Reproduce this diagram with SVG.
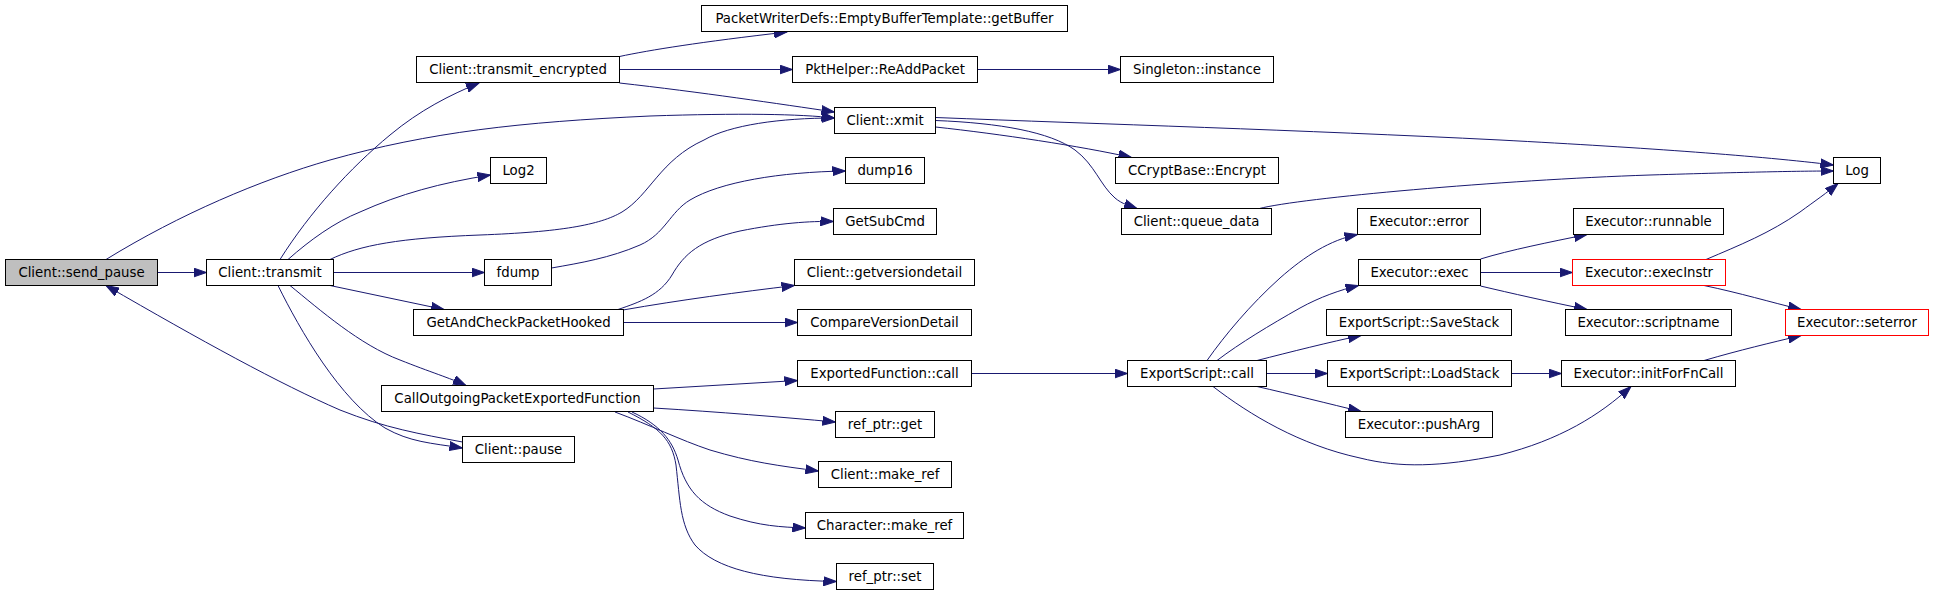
<svg xmlns="http://www.w3.org/2000/svg" width="1933" height="595" viewBox="0 0 1933 595">
<defs>
<style>
.n rect{fill:#ffffff;stroke:#000000;stroke-width:1}
.n text{font-family:"DejaVu Sans","Bitstream Vera Sans",sans-serif;font-size:13.3px;fill:#000000;text-anchor:middle}
.g rect{fill:#bfbfbf}
.r rect{stroke:#ff0000}
#edges path{fill:none;stroke:#191970;stroke-width:1;marker-end:url(#ah)}
</style>
<marker id="ah" markerWidth="14" markerHeight="10" refX="13" refY="5" orient="auto" markerUnits="userSpaceOnUse">
<path d="M0,0.5 L13,5 L0,9.5 z" fill="#191970" stroke="#191970" stroke-width="1"/>
</marker>
</defs>
<rect width="1933" height="595" fill="#ffffff"/>
<g id="edges">
<path d="M157.5,272.5 L206.5,272.5"/>
<path d="M106,259.5 C180,214 260,180 330,160 C430,132 520,122 650,116 C740,113 800,114 834.5,118"/>
<path d="M280,259.5 C310,212 350,168 390,135 C420,110 450,95 479,83"/>
<path d="M288,259.5 C310,240 335,222 360,212 C400,194 440,183 490.5,175"/>
<path d="M330,259.5 C360,245 400,238 480,235 C560,232 600,225 622,212 C650,195 660,160 704,140 C730,125 780,118 834.5,118"/>
<path d="M333.5,272.5 L484.5,272.5"/>
<path d="M330,285.5 L444,309.5"/>
<path d="M290,285.5 C320,310 360,345 400,360 C430,372 450,378 466,385.5"/>
<path d="M278,285.5 C300,330 340,400 385,428 C410,442 430,443 462.5,448"/>
<path d="M462.5,442 C420,434 385,428 340,410 C280,384 200,340 106,285.5"/>
<path d="M619.5,56.5 C650,50 700,42 787,32"/>
<path d="M619.5,69.5 L792.5,69.5"/>
<path d="M619.5,83 C700,92 780,104 834.5,112"/>
<path d="M977.5,69.5 L1120.5,69.5"/>
<path d="M935.5,117.5 C1100,124 1300,130 1500,140 C1650,148 1760,156 1833.5,165"/>
<path d="M935.5,127 C1000,134 1080,146 1131.5,157.5"/>
<path d="M935.5,120.5 C1000,123 1050,132 1075,150 C1095,165 1100,185 1115,198 C1122,204 1130,206 1137,208.5"/>
<path d="M1259.5,208.5 C1300,198 1500,180 1650,175 C1750,172 1800,171 1833.5,171"/>
<path d="M551.5,268 C580,263 610,258 640,245 C665,234 670,212 690,200 C720,182 780,172 845.5,171"/>
<path d="M618,309.5 C640,302 660,295 672,275 C684,254 700,240 740,231 C780,223 810,221 833.5,221.5"/>
<path d="M623,310 C680,300 740,292 794.5,285.5"/>
<path d="M623.5,322.5 L797.5,322.5"/>
<path d="M653.5,389 L797.5,380.5"/>
<path d="M653.5,408 C720,412 780,417 835.5,422"/>
<path d="M615,412 C650,425 680,440 710,450 C750,462 780,466 818.5,471"/>
<path d="M632,412 C660,425 672,440 678,460 C686,490 700,505 730,516 C760,526 780,527 805.5,528"/>
<path d="M628,412 C660,428 672,440 676,465 C680,500 680,525 695,545 C715,568 760,580 836.5,581.5"/>
<path d="M971.5,373.5 L1127.5,373.5"/>
<path d="M1207,360.5 C1225,335 1250,305 1280,278 C1305,256 1330,240 1357.5,234.5"/>
<path d="M1217,360.5 C1240,343 1270,325 1300,308 C1320,297 1340,290 1358.5,285.5"/>
<path d="M1257,360.5 C1290,352 1330,342 1361,335.5"/>
<path d="M1266.5,373.5 L1327.5,373.5"/>
<path d="M1257,386.5 C1290,394 1330,404 1361,411.5"/>
<path d="M1213,386.5 C1250,415 1300,445 1360,458 C1400,468 1440,467 1500,455 C1560,440 1600,415 1631,386.5"/>
<path d="M1511.5,373.5 L1561.5,373.5"/>
<path d="M1704,360.5 C1740,350 1770,343 1801,335.5"/>
<path d="M1480.5,259 C1510,250 1550,242 1587,234.5"/>
<path d="M1480.5,272.5 L1572.5,272.5"/>
<path d="M1480.5,286 C1510,293 1550,302 1587,309.5"/>
<path d="M1706,259.5 C1740,245 1770,233 1800,212 C1815,201 1828,192 1838,183.5"/>
<path d="M1704,285.5 C1740,293 1770,302 1801,309.5"/>
</g>
<g id="n_send_pause" class="n g"><rect x="5.5" y="259.5" width="152" height="26"/><text x="81.5" y="277.2">Client::send_pause</text></g>
<g id="n_transmit" class="n"><rect x="206.5" y="259.5" width="127" height="26"/><text x="270" y="277.2">Client::transmit</text></g>
<g id="n_transmit_encrypted" class="n"><rect x="416.5" y="56.5" width="203" height="26"/><text x="518" y="74.2">Client::transmit_encrypted</text></g>
<g id="n_log2" class="n"><rect x="490.5" y="157.5" width="56" height="26"/><text x="518.5" y="175.2">Log2</text></g>
<g id="n_fdump" class="n"><rect x="484.5" y="259.5" width="67" height="26"/><text x="518" y="277.2">fdump</text></g>
<g id="n_gacph" class="n"><rect x="413.5" y="309.5" width="210" height="26"/><text x="518.5" y="327.2">GetAndCheckPacketHooked</text></g>
<g id="n_copef" class="n"><rect x="381.5" y="385.5" width="272" height="26"/><text x="517.5" y="403.2">CallOutgoingPacketExportedFunction</text></g>
<g id="n_pause" class="n"><rect x="462.5" y="436.5" width="112" height="26"/><text x="518.5" y="454.2">Client::pause</text></g>
<g id="n_getbuffer" class="n"><rect x="701.5" y="5.5" width="366" height="26"/><text x="884.5" y="23.2">PacketWriterDefs::EmptyBufferTemplate::getBuffer</text></g>
<g id="n_readdpacket" class="n"><rect x="792.5" y="56.5" width="185" height="26"/><text x="885" y="74.2">PktHelper::ReAddPacket</text></g>
<g id="n_xmit" class="n"><rect x="834.5" y="107.5" width="101" height="26"/><text x="885" y="125.2">Client::xmit</text></g>
<g id="n_dump16" class="n"><rect x="845.5" y="157.5" width="79" height="26"/><text x="885" y="175.2">dump16</text></g>
<g id="n_getsubcmd" class="n"><rect x="833.5" y="208.5" width="103" height="26"/><text x="885" y="226.2">GetSubCmd</text></g>
<g id="n_getversiondetail" class="n"><rect x="794.5" y="259.5" width="180" height="26"/><text x="884.5" y="277.2">Client::getversiondetail</text></g>
<g id="n_compareversiondetail" class="n"><rect x="797.5" y="309.5" width="174" height="26"/><text x="884.5" y="327.2">CompareVersionDetail</text></g>
<g id="n_exportedfunction_call" class="n"><rect x="797.5" y="360.5" width="174" height="26"/><text x="884.5" y="378.2">ExportedFunction::call</text></g>
<g id="n_refptr_get" class="n"><rect x="835.5" y="411.5" width="99" height="26"/><text x="885" y="429.2">ref_ptr::get</text></g>
<g id="n_client_make_ref" class="n"><rect x="818.5" y="461.5" width="133" height="26"/><text x="885" y="479.2">Client::make_ref</text></g>
<g id="n_character_make_ref" class="n"><rect x="805.5" y="512.5" width="158" height="26"/><text x="884.5" y="530.2">Character::make_ref</text></g>
<g id="n_refptr_set" class="n"><rect x="836.5" y="563.5" width="97" height="26"/><text x="885" y="581.2">ref_ptr::set</text></g>
<g id="n_singleton_instance" class="n"><rect x="1120.5" y="56.5" width="153" height="26"/><text x="1197" y="74.2">Singleton::instance</text></g>
<g id="n_encrypt" class="n"><rect x="1115.5" y="157.5" width="163" height="26"/><text x="1197" y="175.2">CCryptBase::Encrypt</text></g>
<g id="n_queue_data" class="n"><rect x="1121.5" y="208.5" width="150" height="26"/><text x="1196.5" y="226.2">Client::queue_data</text></g>
<g id="n_exportscript_call" class="n"><rect x="1127.5" y="360.5" width="139" height="26"/><text x="1197" y="378.2">ExportScript::call</text></g>
<g id="n_executor_error" class="n"><rect x="1357.5" y="208.5" width="123" height="26"/><text x="1419" y="226.2">Executor::error</text></g>
<g id="n_executor_exec" class="n"><rect x="1358.5" y="259.5" width="122" height="26"/><text x="1419.5" y="277.2">Executor::exec</text></g>
<g id="n_savestack" class="n"><rect x="1326.5" y="309.5" width="185" height="26"/><text x="1419" y="327.2">ExportScript::SaveStack</text></g>
<g id="n_loadstack" class="n"><rect x="1327.5" y="360.5" width="184" height="26"/><text x="1419.5" y="378.2">ExportScript::LoadStack</text></g>
<g id="n_pusharg" class="n"><rect x="1345.5" y="411.5" width="147" height="26"/><text x="1419" y="429.2">Executor::pushArg</text></g>
<g id="n_runnable" class="n"><rect x="1573.5" y="208.5" width="150" height="26"/><text x="1648.5" y="226.2">Executor::runnable</text></g>
<g id="n_execinstr" class="n r"><rect x="1572.5" y="259.5" width="153" height="26"/><text x="1649" y="277.2">Executor::execInstr</text></g>
<g id="n_scriptname" class="n"><rect x="1565.5" y="309.5" width="166" height="26"/><text x="1648.5" y="327.2">Executor::scriptname</text></g>
<g id="n_initforfncall" class="n"><rect x="1561.5" y="360.5" width="174" height="26"/><text x="1648.5" y="378.2">Executor::initForFnCall</text></g>
<g id="n_log" class="n"><rect x="1833.5" y="157.5" width="47" height="26"/><text x="1857" y="175.2">Log</text></g>
<g id="n_seterror" class="n r"><rect x="1785.5" y="309.5" width="143" height="26"/><text x="1857" y="327.2">Executor::seterror</text></g>
</svg>
